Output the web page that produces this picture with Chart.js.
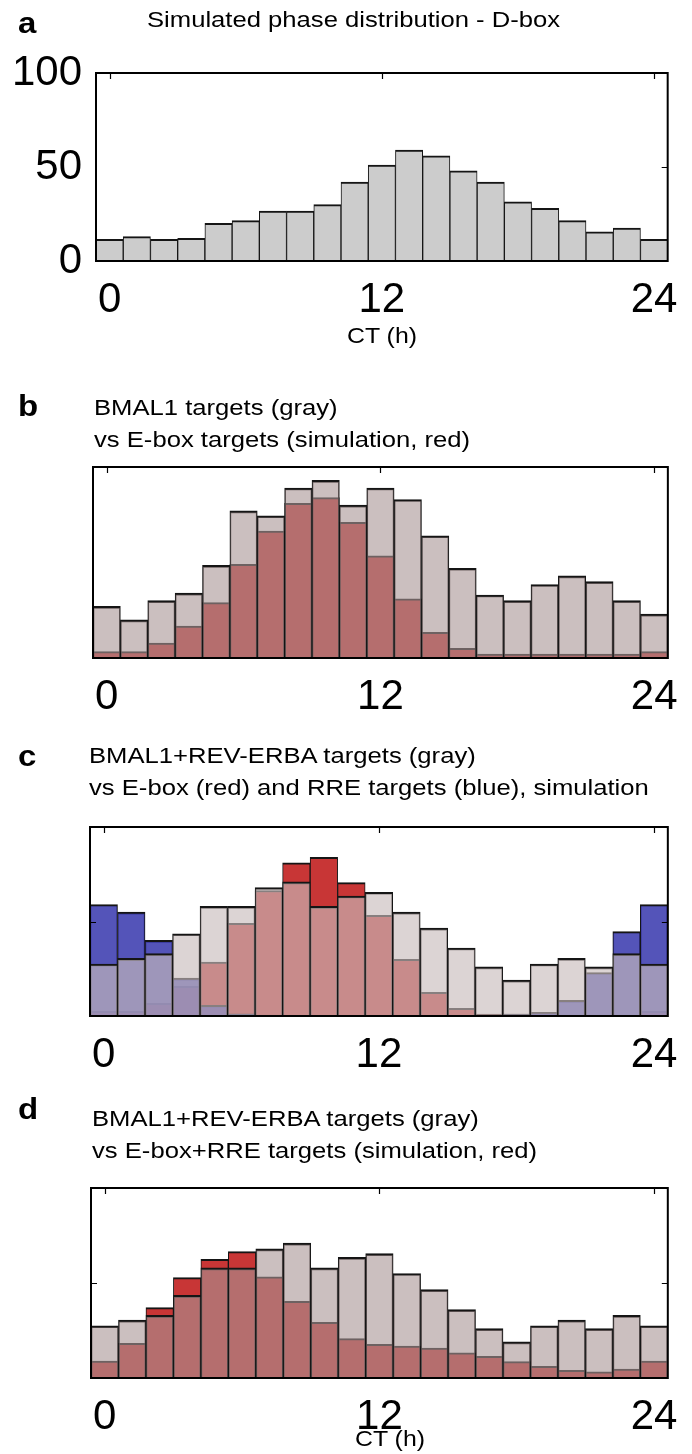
<!DOCTYPE html>
<html lang="en">
<head>
<meta charset="UTF-8">
<title>Phase distributions</title>
<script src="https://cdn.jsdelivr.net/npm/chart.js@4.4.0/dist/chart.umd.min.js"></script>
<style>
  body { margin: 0; background: #fff; }
  #page { position: relative; width: 692px; height: 1454px; overflow: hidden; font-family: "Liberation Sans", Arial, sans-serif; color: #000; }
  canvas { position: absolute; left: 0; }
  .letter { position: absolute; left: 18px; font-weight: bold; font-size: 30px; line-height: 28px; z-index: 2; transform: scaleX(1.1); transform-origin: 0 0; }
  .title { position: absolute; font-size: 22px; line-height: 32px; white-space: nowrap; z-index: 2; transform: scaleX(1.165); transform-origin: 0 0; }
  .axis { position: absolute; width: 200px; text-align: center; font-size: 22px; line-height: 32px; z-index: 2; transform: scaleX(1.13); transform-origin: 50% 0; }
</style>
</head>
<body>
<div id="page">
  <div class="letter" style="top:9px">a</div>
  <div class="title" style="top:4px; left:147px">Simulated phase distribution - D-box</div>
  <canvas id="chartA" width="692" height="360" style="top:0"></canvas>
  <div class="axis" style="top:320px; left:282px">CT (h)</div>

  <div class="letter" style="top:392px">b</div>
  <div class="title" style="top:392px; left:94px">BMAL1 targets (gray)<br>vs E-box targets (simulation, red)</div>
  <canvas id="chartB" width="692" height="360" style="top:360px"></canvas>

  <div class="letter" style="top:742px">c</div>
  <div class="title" style="top:740px; left:89px">BMAL1+REV-ERBA targets (gray)<br>vs E-box (red) and RRE targets (blue), simulation</div>
  <canvas id="chartC" width="692" height="360" style="top:720px"></canvas>

  <div class="letter" style="top:1095px">d</div>
  <div class="title" style="top:1103px; left:92px">BMAL1+REV-ERBA targets (gray)<br>vs E-box+RRE targets (simulation, red)</div>
  <canvas id="chartD" width="692" height="374" style="top:1080px"></canvas>
  <div class="axis" style="top:1423px; left:290px">CT (h)</div>
</div>

<script>
// phase bins (CT, hours) and labelled ticks
const binCenters = [0, 1.2, 2.4, 3.6, 4.8, 6, 7.2, 8.4, 9.6, 10.8, 12, 13.2, 14.4, 15.6, 16.8, 18, 19.2, 20.4, 21.6, 22.8, 24];
const xTicks = [0, 12, 24];
const countTicks = [0, 50, 100];

// a: simulated D-box phases (counts)
const dboxCounts = [11.5, 13, 11.5, 12, 20, 21.5, 26.5, 26.5, 30, 42, 51, 59, 56, 48, 42, 31.5, 28, 21.5, 15.5, 17.5, 11.5];

// b: BMAL1 targets vs simulated E-box targets
const bmal1Targets = [27, 20, 30, 34, 48.5, 77, 74.5, 89, 93, 80, 89, 83, 64, 47, 33, 30, 38.5, 43, 40, 30, 23];
const eboxSim = [3.3, 3.3, 7.8, 16.7, 29, 49, 66.5, 81, 84, 71, 53.5, 31, 13.4, 5, 2, 2, 2, 2, 2, 2, 3.3];

// c/d: BMAL1+REV-ERBA targets, simulated E-box / RRE / E-box+RRE targets
const bmalRevTargets = [27.5, 30.5, 33, 43.5, 58, 58, 68, 71, 58, 63.5, 65.5, 55, 46.5, 36, 26, 19, 27.5, 30.5, 26, 33, 27.5];
const eboxSimC = [2.5, 2.5, 6.7, 15.7, 28.5, 49, 66.4, 81, 84, 70.6, 53.3, 30, 12.5, 4, 1, 1, 1, 0.5, 0.5, 0.5, 2.5];
const rreSim = [59, 55, 40, 20, 5.6, 1.2, 0.5, 0.3, 0.3, 0.3, 0.3, 0.3, 0.3, 0.3, 0.5, 1, 2, 8.3, 23, 44.7, 59];
const eboxRreSim = [8.9, 18.2, 37, 52.8, 62.5, 66.5, 53.3, 40.4, 29.3, 20.7, 17.7, 16.8, 15.8, 13.3, 11.4, 8.6, 6.1, 4, 3.2, 4.7, 8.9];

const FONT = '"Liberation Sans", Arial, sans-serif';
const EDGE = { top: 2, left: 1, right: 1, bottom: 0 };

// box around the plot area with short inward ticks (matlab style)
const framePlugin = {
  id: 'frame',
  afterDatasetsDraw(chart, args, opts) {
    const { ctx, chartArea: a, scales: { x, y } } = chart;
    ctx.save();
    ctx.strokeStyle = '#000';
    ctx.lineWidth = 2;
    ctx.strokeRect(a.left, a.top, a.right - a.left, a.bottom - a.top);
    ctx.lineWidth = 1.2;
    ctx.beginPath();
    xTicks.forEach(v => {
      const px = Math.round(x.getPixelForValue(v)) + 0.5;
      ctx.moveTo(px, a.top);
      ctx.lineTo(px, a.top + 6);
    });
    (opts.yMarks || []).forEach(v => {
      const py = Math.round(y.getPixelForValue(v)) + 0.5;
      ctx.moveTo(a.right, py);
      ctx.lineTo(a.right - 6, py);
      if (opts.leftMarks) {
        ctx.moveTo(a.left, py);
        ctx.lineTo(a.left + 6, py);
      }
    });
    ctx.stroke();
    ctx.restore();
  }
};

function bars(label, data, fill, order) {
  return {
    label, data, order,
    backgroundColor: fill,
    borderColor: '#151515',
    borderWidth: EDGE,
    borderSkipped: false,
    grouped: false,
    barPercentage: 1,
    categoryPercentage: 1
  };
}

function makeChart(id, datasets, p) {
  return new Chart(document.getElementById(id), {
    type: 'bar',
    data: { labels: binCenters, datasets },
    plugins: [framePlugin],
    options: {
      responsive: false,
      animation: false,
      devicePixelRatio: 1,
      layout: { padding: p.padding },
      plugins: {
        legend: { display: false },
        tooltip: { enabled: false },
        frame: { yMarks: p.yMarks, leftMarks: p.leftMarks }
      },
      scales: {
        x: {
          type: 'linear',
          min: -0.6,
          max: 24.6,
          offset: false,
          grid: { display: false, drawTicks: false },
          border: { display: false },
          afterBuildTicks: s => { s.ticks = xTicks.map(v => ({ value: v })); },
          afterFit: s => { s.height = 60; },
          ticks: { font: { family: FONT, size: 42 }, color: '#000', padding: 14, maxRotation: 0, autoSkip: false }
        },
        y: {
          display: !!p.yLabels,
          min: 0,
          max: 100,
          grid: { display: false, drawTicks: false },
          border: { display: false },
          afterBuildTicks: s => { s.ticks = countTicks.map(v => ({ value: v })); },
          afterFit: s => { if (p.yLabels) s.width = 96; },
          ticks: { font: { family: FONT, size: 42 }, color: '#000', padding: 14, autoSkip: false }
        }
      }
    }
  });
}

// a
makeChart('chartA', [
  bars('D-box', dboxCounts, '#cccccc', 0)
], { padding: { top: 73, left: 0, right: 24, bottom: 39 }, yLabels: true, yMarks: [50] });

// b
makeChart('chartB', [
  bars('BMAL1 targets', bmal1Targets, 'rgba(168,148,148,0.6)', 0),
  bars('E-box targets (simulation)', eboxSim, 'rgb(200,54,54)', 1)
], { padding: { top: 107, left: 93, right: 20, bottom: 2 } });

// c
makeChart('chartC', [
  bars('BMAL1+REV-ERBA targets', bmalRevTargets, 'rgba(201,188,188,0.64)', 0),
  bars('RRE targets (simulation)', rreSim, 'rgba(60,60,175,0.88)', 1),
  bars('E-box targets (simulation)', eboxSimC, 'rgb(200,54,54)', 2)
], { padding: { top: 107, left: 90, right: 24, bottom: 4 }, yMarks: [50], leftMarks: true });

// d
makeChart('chartD', [
  bars('BMAL1+REV-ERBA targets', bmalRevTargets, 'rgba(168,148,148,0.6)', 0),
  bars('E-box+RRE targets (simulation)', eboxRreSim, 'rgb(200,54,54)', 1)
], { padding: { top: 108, left: 91, right: 24, bottom: 16 }, yMarks: [50], leftMarks: true });
</script>
</body>
</html>
